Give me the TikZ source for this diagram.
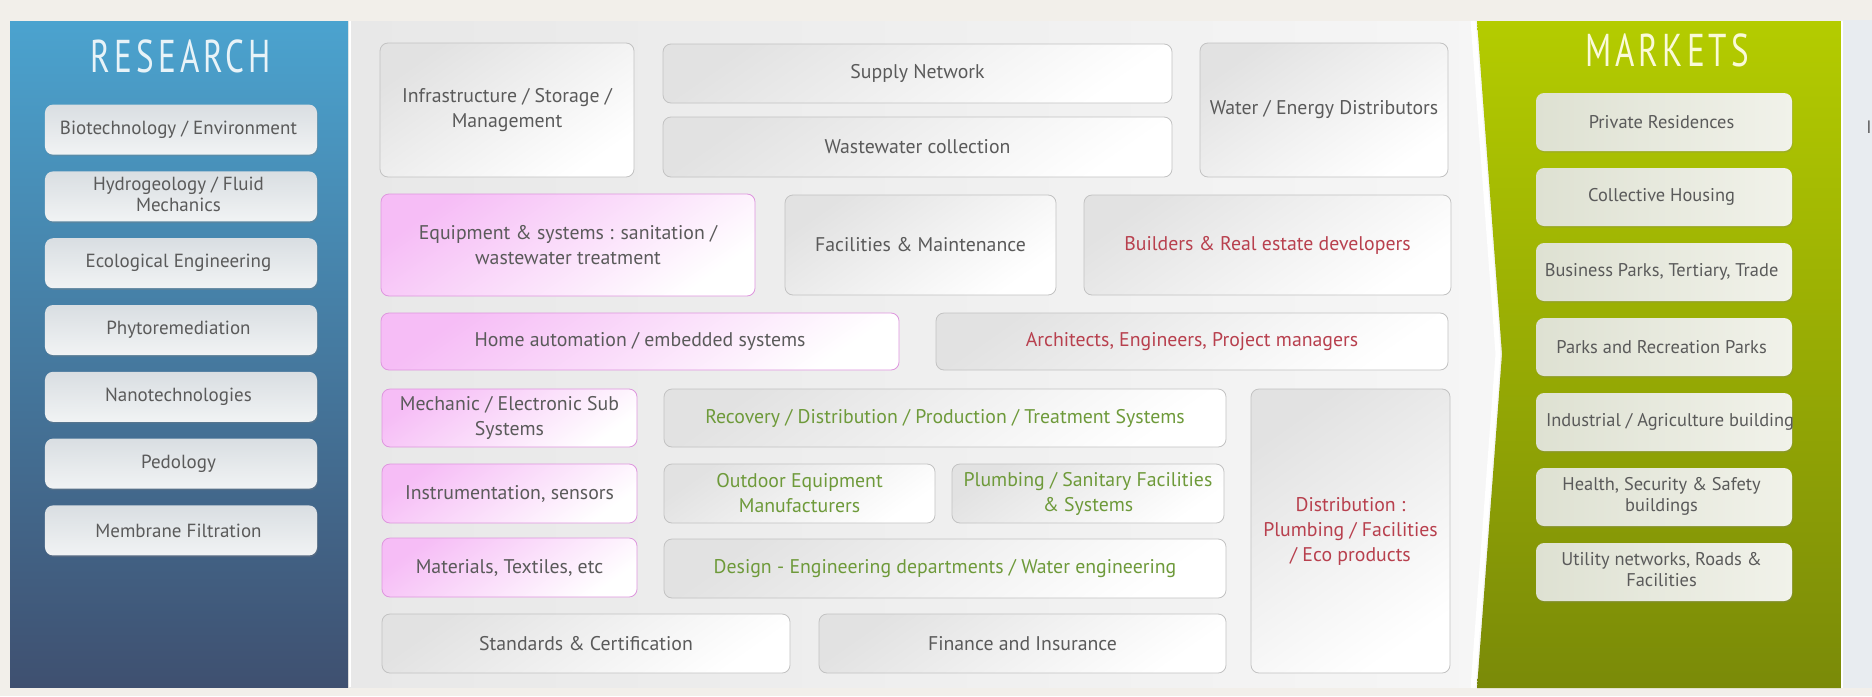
\documentclass[tikz,border=0pt]{standalone}
\usepackage{fontspec}
\setmainfont{PT Sans}
\newfontfamily\headfont[FakeStretch=0.72,LetterSpace=9]{PT Sans}
\usetikzlibrary{matrix,shadows}
\newcommand\twolines[2]{{\renewcommand\arraystretch{0.85}\begin{tabular}{@{}c@{}}#1\\#2\end{tabular}}}
\definecolor{pagebg}{HTML}{F2EFEA}
\definecolor{sidebg}{HTML}{E8ECF0}
\definecolor{restop}{HTML}{4BA3CF}
\definecolor{resmid}{HTML}{3E7CA6}
\definecolor{resbot}{HTML}{3F5070}
\definecolor{mkttop}{HTML}{B4CC00}
\definecolor{mktmid}{HTML}{9BB202}
\definecolor{mktbot}{HTML}{7A8A08}
\definecolor{midleft}{HTML}{E8E8E8}
\definecolor{midright}{HTML}{F6F6F6}
\definecolor{boxtop}{HTML}{E2E2E2}
\definecolor{boxline}{HTML}{C2C2C2}
\definecolor{pinktop}{HTML}{F6BDF6}
\definecolor{pinkline}{HTML}{DE96DE}
\definecolor{rbtop}{HTML}{D9DEE2}
\definecolor{rbbot}{HTML}{F1F3F4}
\definecolor{mbleft}{HTML}{DEE1D2}
\definecolor{mbright}{HTML}{F1F2EA}
\definecolor{textgray}{HTML}{5A5A5A}
\definecolor{redtext}{HTML}{B8404E}
\definecolor{greentext}{HTML}{6E9A3A}
\definecolor{restitle}{HTML}{E8F3F8}
\definecolor{mkttitle}{HTML}{FAFAD8}

\begin{document}
\begin{tikzpicture}[x=0.5pt,y=-0.5pt,
  box/.style={rectangle, rounded corners=4pt, align=center, inner sep=1pt, text=textgray,
    font=\fontsize{9.9}{12.5}\selectfont},
  gbox/.style={box, draw=boxline, top color=boxtop, bottom color=white, shading angle=35},
  pbox/.style={box, draw=pinkline, top color=pinktop, bottom color=white, shading angle=35},
  rbox/.style={box, top color=rbtop, bottom color=rbbot, minimum width=136pt, minimum height=25pt,
    font=\fontsize{9.5}{12.5}\selectfont, drop shadow={opacity=0.3, shadow xshift=0.4pt, shadow yshift=-0.8pt}},
  mbox/.style={box, left color=mbleft, right color=mbright, minimum width=128pt, minimum height=29pt,
    font=\fontsize{9.2}{12}\selectfont, drop shadow={opacity=0.25, shadow xshift=0.4pt, shadow yshift=-0.8pt}},
  redtxt/.style={text=redtext},
  greentxt/.style={text=greentext},
  title/.style={font=\headfont\fontsize{23}{26}\selectfont}]
\useasboundingbox (0,0) rectangle (1872,696);
\fill[pagebg] (0,0) rectangle (1872,696);
\fill[sidebg] (1843,20) rectangle (1872,688);
\shade[top color=restop, middle color=resmid, bottom color=resbot] (10,21) rectangle (348,687);
\fill[left color=midleft, right color=midright] (350,21) rectangle (1500,687);
\draw[white, line width=1pt] (350,21) -- (350,687);
\shade[top color=mkttop, middle color=mktmid, bottom color=mktbot] (1477,21) -- (1841,21) -- (1841,688) -- (1477,688) -- (1502,354) -- cycle;
\draw[white, line width=2.5pt] (1473,21) -- (1498,354) -- (1473,688);
\draw[white, line width=1.2pt] (1842,21) -- (1842,688);

\node[title, text=restitle] (restitle) at (181,56) {RESEARCH};
\node[title, text=mkttitle] (mkttitle) at (1667,50) {MARKETS};

\matrix (research) at (181,330) [matrix of nodes, row sep=8.4pt, nodes={rbox}]
{
Biotechnology / Environment \\
\twolines{Hydrogeology / Fluid}{Mechanics} \\
Ecological Engineering \\
Phytoremediation \\
Nanotechnologies \\
Pedology \\
Membrane Filtration \\
};

\matrix (markets) at (1664,347) [matrix of nodes, row sep=8.5pt, nodes={mbox}]
{
Private Residences \\
Collective Housing \\
Business Parks, Tertiary, Trade \\
Parks and Recreation Parks \\
\phantom{I} \\
\twolines{Health, Security \& Safety}{buildings} \\
\twolines{Utility networks, Roads \&}{Facilities} \\
};
\begin{scope}
\clip ([xshift=1pt]markets-5-1.south west) rectangle (markets-5-1.north east);
\node[box, font=\fontsize{9.2}{12}\selectfont, anchor=west] (industrial) at ([xshift=4pt]markets-5-1.west) {Industrial / Agriculture buildings};
\end{scope}

\node[gbox, minimum width=127pt, minimum height=67pt] (infra) at (507,110) {Infrastructure / Storage /\\Management};
\node[gbox, minimum width=254.5pt, minimum height=29.5pt] (supply) at (917.5,73.5) {Supply Network};
\node[gbox, minimum width=254.5pt, minimum height=30pt] (waste) at (917.5,147) {Wastewater collection};
\node[gbox, minimum width=124pt, minimum height=67pt] (water) at (1324,110) {Water / Energy Distributors};
\node[pbox, minimum width=187pt, minimum height=51pt] (equip) at (568,245) {Equipment \& systems : sanitation /\\wastewater treatment};
\node[gbox, minimum width=135.5pt, minimum height=50pt] (facil) at (920.5,245) {Facilities \& Maintenance};
\node[gbox, redtxt, minimum width=183.5pt, minimum height=50pt] (builders) at (1267.5,245) {Builders \& Real estate developers};
\node[pbox, minimum width=259pt, minimum height=28.5pt] (home) at (640,341.5) {Home automation / embedded systems};
\node[gbox, redtxt, minimum width=256pt, minimum height=28.5pt] (archi) at (1192,341.5) {Architects, Engineers, Project managers};
\node[pbox, minimum width=127.5pt, minimum height=29pt] (mech) at (509.5,418) {Mechanic / Electronic Sub\\Systems};
\node[gbox, greentxt, minimum width=281pt, minimum height=29pt] (recov) at (945,418) {Recovery / Distribution / Production / Treatment Systems};
\node[pbox, minimum width=127.5pt, minimum height=29.5pt] (instr) at (509.5,493.5) {Instrumentation, sensors};
\node[gbox, greentxt, minimum width=135.5pt, minimum height=29.5pt] (outdoor) at (799.5,493.5) {Outdoor Equipment\\Manufacturers};
\node[gbox, greentxt, minimum width=136pt, minimum height=29.5pt] (plumb) at (1088,493.5) {Plumbing / Sanitary Facilities\\\& Systems};
\node[pbox, minimum width=127.5pt, minimum height=29.5pt] (mater) at (509.5,567.5) {Materials, Textiles, etc};
\node[gbox, greentxt, minimum width=281pt, minimum height=29.5pt] (design) at (945,568.5) {Design - Engineering departments / Water engineering};
\node[gbox, minimum width=204pt, minimum height=29.5pt] (standards) at (586,643.5) {Standards \& Certification};
\node[gbox, minimum width=203.5pt, minimum height=29.5pt] (finance) at (1022.5,643.5) {Finance and Insurance};
\node[gbox, redtxt, minimum width=99.5pt, minimum height=142pt] (distrib) at (1350.5,531) {Distribution :\\Plumbing / Facilities\\/ Eco products};

\node[text=textgray, font=\fontsize{9}{10}\selectfont, inner sep=0pt] (cut) at (1869,127) {I};
\end{tikzpicture}
\end{document}
